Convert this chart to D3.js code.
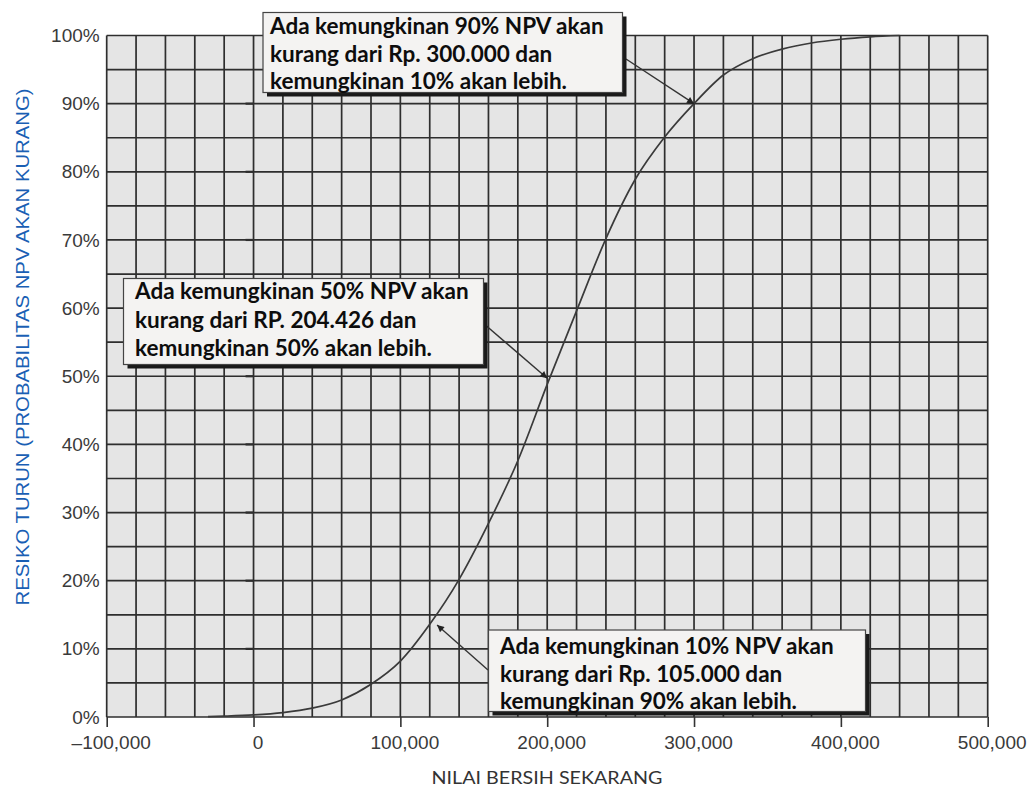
<!DOCTYPE html>
<html>
<head>
<meta charset="utf-8">
<script src="https://cdn.jsdelivr.net/npm/d3@7"></script>
<style>
  html, body { margin: 0; padding: 0; background: #ffffff; }
  svg { display: block; }
</style>
</head>
<body>
<svg id="chart" width="1035" height="787"></svg>
<script>
// Cumulative distribution of net present value (NPV), sampled every 20,000
const npvValues = [-31000, -20000, 0, 20000, 40000, 60000, 80000, 100000, 120000, 140000,
  160000, 180000, 200000, 220000, 240000, 260000, 280000, 300000, 320000, 340000,
  360000, 380000, 400000, 420000, 440000];
const probValues = [0.0005, 0.0012, 0.003, 0.0065, 0.013, 0.025, 0.048, 0.082, 0.136, 0.202,
  0.284, 0.376, 0.488, 0.596, 0.702, 0.789, 0.851, 0.900, 0.942, 0.966,
  0.980, 0.989, 0.9945, 0.998, 1.0];

// Axis ticks
const xTickValues = [-100000, 0, 100000, 200000, 300000, 400000, 500000];
const yTickValues = [0, 0.1, 0.2, 0.3, 0.4, 0.5, 0.6, 0.7, 0.8, 0.9, 1.0];
const xGridStep = 20000;
const yGridStep = 0.05;

const xTitle = "NILAI BERSIH SEKARANG";
const yTitle = "RESIKO TURUN (PROBABILITAS NPV AKAN KURANG)";

// Callouts: text lines and the point on the curve each arrow points to
const calloutLines = [
  ["Ada kemungkinan 90% NPV akan", "kurang dari Rp. 300.000 dan", "kemungkinan 10% akan lebih."],
  ["Ada kemungkinan 50% NPV akan", "kurang dari RP. 204.426 dan", "kemungkinan 50% akan lebih."],
  ["Ada kemungkinan 10% NPV akan", "kurang dari Rp. 105.000 dan", "kemungkinan 90% akan lebih."]
];
const calloutTargetsX = [300000, 200000, 125000];
const calloutTargetsY = [0.90, 0.497, 0.135];

// ---- layout ----
const svg = d3.select("#chart");
const plotL = 106.7, plotR = 987.7, plotT = 35.5, plotB = 717;

const x = d3.scaleLinear().domain([-100000, 500000]).range([plotL, plotR]);
const y = d3.scaleLinear().domain([0, 1]).range([plotB, plotT]);

const defs = svg.append("defs");
defs.append("filter").attr("id", "soft")
  .append("feGaussianBlur").attr("stdDeviation", 0.35);
defs.append("marker")
  .attr("id", "arrowhead")
  .attr("viewBox", "0 0 10 10")
  .attr("refX", 10).attr("refY", 5)
  .attr("markerWidth", 11).attr("markerHeight", 7)
  .attr("markerUnits", "userSpaceOnUse")
  .attr("orient", "auto")
  .append("path").attr("d", "M0,0 L10,5 L0,10 Z").attr("fill", "#222");

// plot background
svg.append("rect")
  .attr("x", plotL).attr("y", plotT)
  .attr("width", plotR - plotL).attr("height", plotB - plotT)
  .attr("fill", "#e5e5e5");

// grid
const grid = svg.append("g").attr("filter", "url(#soft)")
  .attr("stroke", "#2e2e2e").attr("stroke-width", 1.7);
const xGrid = d3.range(-100000, 500000 + 1, xGridStep);
const yGrid = d3.range(0, 1 + 1e-9, yGridStep);
grid.selectAll("line.v").data(xGrid).join("line").attr("class", "v")
  .attr("x1", d => x(d)).attr("x2", d => x(d))
  .attr("y1", plotT).attr("y2", plotB);
grid.selectAll("line.h").data(yGrid).join("line").attr("class", "h")
  .attr("x1", plotL).attr("x2", plotR)
  .attr("y1", d => y(d)).attr("y2", d => y(d));

// short marks on the zero line
grid.selectAll("line.z").data(yTickValues.slice(1, -1)).join("line").attr("class", "z")
  .attr("x1", x(0) - 8).attr("x2", x(0))
  .attr("y1", d => y(d)).attr("y2", d => y(d))
  .attr("stroke-width", 2.2);

// x axis
const xFmt = d => d3.format(",")(d).replace("−", "–");
const xAxis = svg.append("g")
  .attr("transform", `translate(0,${plotB})`)
  .call(d3.axisBottom(x).tickValues(xTickValues).tickSize(10).tickPadding(9).tickFormat(xFmt));
xAxis.select(".domain").remove();
xAxis.selectAll(".tick line").attr("stroke", "#333").attr("stroke-width", 1.6);
xAxis.selectAll(".tick text")
  .attr("dx", 4)
  .attr("fill", "#3a3a3a")
  .style("font-family", "'Liberation Sans', Arial, sans-serif")
  .style("font-size", "19px");

// y axis
const yAxis = svg.append("g")
  .attr("transform", `translate(${plotL},0)`)
  .call(d3.axisLeft(y).tickValues(yTickValues).tickSize(0).tickPadding(7).tickFormat(d3.format(".0%")));
yAxis.select(".domain").remove();
yAxis.selectAll(".tick text")
  .attr("fill", "#3a3a3a")
  .style("font-family", "'Liberation Sans', Arial, sans-serif")
  .style("font-size", "19px");

// curve
const pts = npvValues.map((v, i) => [v, probValues[i]]);
const line = d3.line().x(d => x(d[0])).y(d => y(d[1])).curve(d3.curveMonotoneX);
svg.append("path")
  .datum(pts)
  .attr("d", line)
  .attr("fill", "none")
  .attr("stroke", "#3a3a3a")
  .attr("stroke-width", 1.7);

// axis titles
svg.append("text")
  .attr("x", 547).attr("y", 784)
  .attr("text-anchor", "middle")
  .attr("textLength", 231).attr("lengthAdjust", "spacingAndGlyphs")
  .attr("fill", "#333")
  .style("font-family", "Lato, 'Open Sans', sans-serif")
  .style("font-size", "18px")
  .text(xTitle);

svg.append("text")
  .attr("transform", "translate(29,347) rotate(-90)")
  .attr("text-anchor", "middle")
  .attr("textLength", 517).attr("lengthAdjust", "spacingAndGlyphs")
  .attr("fill", "#1a5fb4")
  .style("font-family", "'Liberation Sans', Arial, sans-serif")
  .style("font-size", "18px")
  .text(yTitle);

// callout boxes
const boxes = [
  { x0: 263, y0: 12.5, x1: 622.5, y1: 92.5, tx: 270, ty: [25.5, 53.3, 80.5], tail: [626, 59] },
  { x0: 123.5, y0: 278.5, x1: 483.5, y1: 364.5, tx: 135, ty: [290.7, 319.3, 347.7], tail: [483, 323] },
  { x0: 488.5, y0: 630, x1: 865.5, y1: 711.5, tx: 500, ty: [645, 673, 700], tail: [488, 670] }
];

boxes.forEach((b, i) => {
  // arrow from box to curve
  svg.append("line")
    .attr("x1", b.tail[0]).attr("y1", b.tail[1])
    .attr("x2", x(calloutTargetsX[i])).attr("y2", y(calloutTargetsY[i]))
    .attr("stroke", "#333").attr("stroke-width", 1.4)
    .attr("marker-end", "url(#arrowhead)");

  const g = svg.append("g");
  g.append("rect")
    .attr("x", b.x0 + 4).attr("y", b.y0 + 4)
    .attr("width", b.x1 - b.x0).attr("height", b.y1 - b.y0)
    .attr("fill", "#1a1a1a");
  g.append("rect")
    .attr("x", b.x0).attr("y", b.y0)
    .attr("width", b.x1 - b.x0).attr("height", b.y1 - b.y0)
    .attr("fill", "#f4f3f2").attr("stroke", "#444").attr("stroke-width", 1.2);

  const texts = g.selectAll("text").data(calloutLines[i]).join("text")
    .attr("x", b.tx)
    .attr("y", (d, k) => b.ty[k])
    .attr("dominant-baseline", "central")
    .attr("fill", "#0d0d0d")
    .style("font-family", "Lato, 'Open Sans', sans-serif")
    .style("font-weight", "bold")
    .style("font-size", "20px")
    .text(d => d);

  // size the font so the first line spans the box width
  const w = texts.node().getComputedTextLength();
  const fs = 20 * 334 / w;
  texts.style("font-size", fs + "px");
});
</script>
</body>
</html>
